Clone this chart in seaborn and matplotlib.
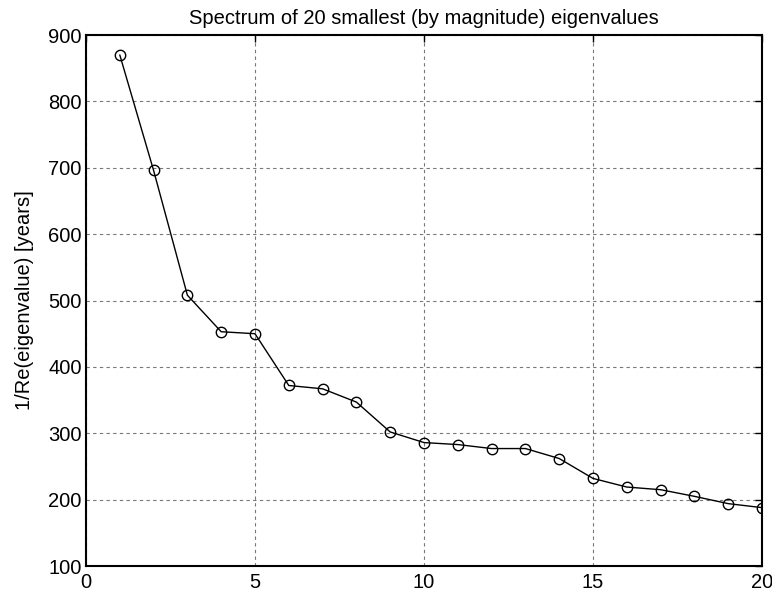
import matplotlib
matplotlib.use("Agg")
import matplotlib.pyplot as plt
import seaborn as sns
import pandas as pd

index = list(range(1, 21))
values = [870, 696, 508, 453, 450, 372, 367, 347, 302, 286,
          283, 277, 277, 262, 232, 219, 215, 205, 194, 188]
x_ticks = [0, 5, 10, 15, 20]
y_ticks = [100, 200, 300, 400, 500, 600, 700, 800, 900]

sns.set_style("white")
plt.rcParams['font.family'] = ['Liberation Sans', 'DejaVu Sans']
plt.rcParams['text.color'] = 'black'
plt.rcParams['axes.labelcolor'] = 'black'

df = pd.DataFrame({"k": index, "v": values})

fig = plt.figure(figsize=(7.72, 5.95), dpi=100)
ax = fig.add_axes([0.1114, 0.0487, 0.8756, 0.8924])

sns.lineplot(data=df, x="k", y="v", ax=ax, color="black", linewidth=1.0,
             marker="o", markersize=7.5, markerfacecolor="none",
             markeredgecolor="black", markeredgewidth=1.0)

ax.set_xlim(0, 20)
ax.set_ylim(100, 900)
ax.set_xticks(x_ticks)
ax.set_yticks(y_ticks)
ax.set_xticklabels([str(t) for t in x_ticks])
ax.set_yticklabels([str(t) for t in y_ticks])
ax.grid(True, linestyle=(0, (3, 3)), color="#777777", linewidth=0.8)
ax.tick_params(direction="in", length=5, width=1.0, top=True, right=True,
               labelsize=14.5, pad=3, colors="black")
ax.tick_params(axis="x", pad=5)
for s in ax.spines.values():
    s.set_linewidth(1.5)
    s.set_color("black")
ax.set_xlabel("")
ax.set_ylabel("1/Re(eigenvalue) [years]", fontsize=14.5, color="black", labelpad=10)
ax.set_title("Spectrum of 20 smallest (by magnitude) eigenvalues", fontsize=14.5,
             pad=8, color="black")

fig.savefig("out.png", dpi=100)
